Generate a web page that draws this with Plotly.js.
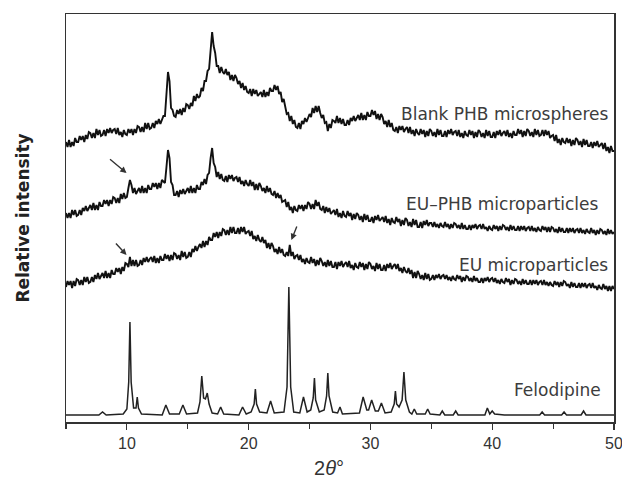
<!DOCTYPE html>
<html>
<head>
<meta charset="utf-8">
<script src="https://cdn.plot.ly/plotly-3.0.1.min.js"></script>
<style>html,body{margin:0;padding:0;background:#fff;}#chart{width:622px;height:484px;}</style>
</head>
<body>
<div id="chart"></div>
<script>
// 2-theta grid for the noisy patterns: start 5, step 0.125 (x0/dx handled by Plotly)
var gridStart = 5;
var gridStep = 0.125;

// Blank PHB microspheres (offset intensity; one row per degree)
var blankPHB = [
280,275,282,275,280,276,284,280,
280,286,282,286,280,287,283,290,
289,284,289,284,293,287,292,286,
287,292,286,293,289,294,289,292,
293,288,294,287,290,285,292,288,
287,293,289,293,287,293,289,296,
295,290,295,290,299,293,299,293,
294,299,294,301,298,303,298,302,
306,306,325,350,341,314,312,306,
305,312,308,313,307,314,310,318,
317,313,319,316,326,321,328,324,
326,334,331,341,341,351,353,369,
390,376,369,356,356,349,355,350,
348,353,347,350,342,347,341,347,
344,338,341,334,339,332,336,330,
329,333,326,333,328,332,326,328,
330,325,332,325,330,326,334,331,
331,337,332,336,328,330,320,323,
317,308,309,301,306,298,302,295,
294,299,293,301,298,304,300,304,
308,305,314,309,316,310,316,309,
304,307,299,300,291,298,294,302,
301,299,306,299,304,298,303,297,
297,302,297,304,301,306,301,304,
307,302,309,302,307,302,310,306,
306,312,307,311,303,308,302,308,
305,298,301,295,302,295,299,292,
291,295,289,296,292,296,290,293,
295,289,295,288,292,286,293,289,
287,293,288,292,285,291,286,293,
291,286,290,285,293,287,292,286,
286,291,285,292,288,293,287,290,
291,286,292,285,289,284,291,287,
286,292,287,291,284,290,285,292,
290,285,289,284,292,286,291,285,
285,290,284,291,287,292,286,289,
291,286,292,285,289,284,291,287,
287,293,288,292,285,291,286,293,
291,286,290,285,293,287,292,286,
287,292,286,292,287,291,284,286,
287,281,287,279,283,277,284,280,
279,284,279,283,276,282,277,284,
282,277,281,275,283,277,282,276,
276,280,274,280,276,281,275,277,
279,273,279,271,275,269,276,271,
271
];

// EU-PHB microparticles
var euPHB = [
209,204,209,204,212,207,212,206,
207,212,207,214,211,216,211,214,
217,212,219,212,217,212,220,216,
216,222,218,222,216,222,218,225,
224,219,224,219,228,223,229,224,
225,234,242,237,229,234,228,231,
234,229,236,229,234,229,237,233,
233,239,235,239,233,239,234,242,
240,239,255,272,264,240,237,227,
227,231,225,232,228,233,228,231,
234,229,236,229,234,229,237,233,
233,240,237,243,238,247,249,264,
274,259,255,245,250,243,248,242,
241,246,240,247,243,247,241,244,
245,240,245,238,241,236,242,238,
236,242,236,240,232,238,232,239,
236,231,234,229,236,230,234,228,
227,231,224,229,224,227,220,221,
222,215,220,212,215,209,216,212,
211,217,213,217,211,217,213,220,
218,213,218,213,222,216,220,213,
212,216,209,215,210,214,208,210,
212,207,213,205,209,204,211,206,
205,211,206,209,202,208,203,209,
207,202,206,200,208,202,207,201,
201,205,199,206,202,207,201,203,
205,200,206,199,203,197,204,200,
199,205,200,203,196,202,197,204,
202,196,200,195,203,197,202,195,
195,200,194,201,197,202,196,199,
199,195,200,195,198,194,199,196,
195,200,195,198,193,198,194,199,
198,194,197,193,199,193,197,193,
193,197,192,197,194,198,193,196,
197,193,198,193,195,191,196,193,
192,197,193,196,191,196,192,197,
196,192,195,191,197,192,196,192,
192,196,191,196,192,196,191,194,
195,191,196,191,194,190,195,192,
191,196,192,195,190,195,190,195,
194,190,193,189,195,190,194,190,
190,194,189,194,190,194,189,192,
193,189,194,189,192,188,193,190,
189,194,189,192,187,192,188,193,
192,188,191,187,193,188,192,188,
190
];

// EU microparticles
var euMP = [
135,141,137,141,134,141,136,143,
142,137,142,137,145,140,145,139,
140,145,140,147,143,149,143,146,
149,144,151,144,149,144,152,148,
148,154,150,154,148,155,151,159,
158,155,165,156,162,156,162,156,
157,162,157,164,160,165,160,163,
165,160,166,159,164,159,166,162,
162,168,163,167,161,167,162,169,
168,163,167,162,171,165,170,164,
165,170,165,173,170,176,171,175,
178,174,181,175,181,177,185,182,
182,189,185,190,184,190,186,193,
192,187,192,187,195,189,195,189,
189,194,188,195,190,195,188,190,
191,186,191,183,186,181,187,182,
180,185,179,182,174,179,173,179,
176,170,173,168,175,169,173,167,
166,170,166,177,166,170,163,166,
167,162,167,160,163,158,164,160,
159,165,159,163,156,162,157,164,
161,156,160,155,162,156,161,155,
155,160,153,160,156,161,155,158,
160,155,161,154,157,152,159,155,
154,160,155,159,152,158,153,160,
158,153,156,151,159,153,158,152,
152,157,151,158,154,159,153,156,
158,153,158,151,154,149,155,151,
149,154,148,152,144,150,144,151,
148,143,147,142,149,143,148,142,
143,147,142,147,144,148,143,146,
147,143,147,142,145,141,146,143,
142,147,143,146,140,145,141,146,
145,141,144,140,146,141,144,140,
140,144,139,144,141,145,140,143,
144,140,144,139,142,138,143,140,
139,144,140,143,137,142,138,143,
142,138,141,137,143,138,142,138,
138,142,137,142,138,142,137,140,
141,137,142,137,140,136,140,137,
136,141,137,140,135,140,136,141,
140,136,138,134,140,135,139,135,
135,139,134,139,135,139,134,137,
138,134,139,134,136,132,137,134,
133,138,133,136,131,136,131,136,
133
];

// Felodipine (crystalline reference)
var feloX = [5,7.7,8.0,8.3,9.7,10.0,10.15,10.25,10.35,10.55,10.75,10.85,10.95,11.2,12.9,13.2,13.5,14.3,14.6,14.9,
15.8,16.0,16.15,16.3,16.45,16.6,16.75,17.0,17.45,17.7,17.95,19.2,19.5,19.8,20.2,20.45,20.55,20.65,20.9,21.5,
21.8,22.1,22.9,23.15,23.3,23.45,23.7,24.2,24.5,24.8,25.1,25.3,25.4,25.5,25.8,26.2,26.4,26.5,26.6,26.9,
27.3,27.5,27.7,29.1,29.4,29.7,29.85,30.1,30.4,30.65,30.9,31.2,31.7,31.95,32.05,32.15,32.35,32.6,32.75,32.9,
33.2,33.4,33.6,33.8,34.5,34.7,34.9,35.7,35.9,36.1,36.8,37.0,37.2,39.4,39.6,39.8,40.0,40.2,41.0,43.9,
44.1,44.3,45.7,45.9,46.1,47.3,47.5,47.7,50];
var feloY = [7,7,10,7,8,13,40,100,40,14,14,25,14,8,7,17,8,8,17,8,
9,20,46,24,23,29,18,9,8,15,8,7,15,8,10,18,33,18,10,9,
21,9,10,35,135,35,10,9,25,10,12,24,44,22,10,12,26,49,26,10,
9,15,8,9,25,12,12,22,11,11,19,9,10,18,31,18,15,22,50,22,
10,8,13,8,8,13,8,7,11,7,7,11,7,7,14,8,11,8,7,7,
10,7,7,10,7,7,11,7,7];

var seriesNames = ["Blank PHB microspheres", "EU\u2013PHB microparticles", "EU microparticles", "Felodipine"];
var labelX = [49.75, 48.97, 49.66, 49.13];
var labelY = [308, 218, 157, 32];

var xTickVals = [10, 20, 30, 40, 50];
var xTickText = ['10', '20', '30', '40', '50'];

var lineStyle = {color: '#111', width: 1.9};
var traces = [
  {y: blankPHB, x0: gridStart, dx: gridStep, type: 'scatter', mode: 'lines', line: lineStyle, name: seriesNames[0]},
  {y: euPHB, x0: gridStart, dx: gridStep, type: 'scatter', mode: 'lines', line: lineStyle, name: seriesNames[1]},
  {y: euMP, x0: gridStart, dx: gridStep, type: 'scatter', mode: 'lines', line: lineStyle, name: seriesNames[2]},
  {x: feloX, y: feloY, type: 'scatter', mode: 'lines', line: {color: '#222', width: 1.5}, name: seriesNames[3]}
];

var annotations = [];
for (var i = 0; i < seriesNames.length; i++) {
  annotations.push({
    x: labelX[i], y: labelY[i], xref: 'x', yref: 'y', text: seriesNames[i],
    showarrow: false, xanchor: 'right', yanchor: 'middle',
    font: {family: 'DejaVu Sans', size: 17, color: '#3c3c3c'}
  });
}
// arrows marking small felodipine reflections
var arrowHeadX = [9.97, 9.97, 23.51];
var arrowHeadY = [249, 167, 182];
var arrowAx = [-18, -12, 6];
var arrowAy = [-15, -13, -15];
for (var j = 0; j < arrowHeadX.length; j++) {
  annotations.push({
    x: arrowHeadX[j], y: arrowHeadY[j], xref: 'x', yref: 'y', text: '',
    showarrow: true, arrowhead: 2, arrowsize: 0.9, arrowwidth: 1.4, arrowcolor: '#333',
    ax: arrowAx[j], ay: arrowAy[j]
  });
}
annotations.push({
  x: (329 - 66) / 548, y: -(468 - 422) / 408, xref: 'paper', yref: 'paper', text: '2<i>\u03b8</i>\u00b0',
  showarrow: false, xanchor: 'center', yanchor: 'middle',
  font: {family: 'Liberation Sans', size: 20, color: '#333'}
});

var layout = {
  width: 622, height: 484,
  margin: {l: 66, r: 8, t: 14, b: 62},
  paper_bgcolor: '#fff', plot_bgcolor: '#fff',
  showlegend: false,
  xaxis: {
    range: [5, 50.0001], tickmode: 'array', tickvals: xTickVals, ticktext: xTickText,
    ticks: 'outside', ticklen: 6, tickwidth: 1.2, tickcolor: '#333', ticklabeloverflow: 'allow',
    minor: {tickmode: 'array', tickvals: [5, 15, 25, 35, 45], ticks: 'outside', ticklen: 5, tickwidth: 1.2, tickcolor: '#333'},
    showline: true, linecolor: '#333', linewidth: 1.5, mirror: true, showgrid: false, zeroline: false,
    tickfont: {family: 'Liberation Sans', size: 16, color: '#333'}
  },
  yaxis: {
    range: [0, 408], showticklabels: false, ticks: '', showgrid: false, zeroline: false,
    showline: true, linecolor: '#333', linewidth: 1.5, mirror: true,
    title: {text: 'Relative intensity', font: {family: 'DejaVu Sans', size: 17, color: '#222', weight: 'bold'}, standoff: 30}
  },
  annotations: annotations
};

Plotly.newPlot('chart', traces, layout, {staticPlot: true});
</script>
</body>
</html>
